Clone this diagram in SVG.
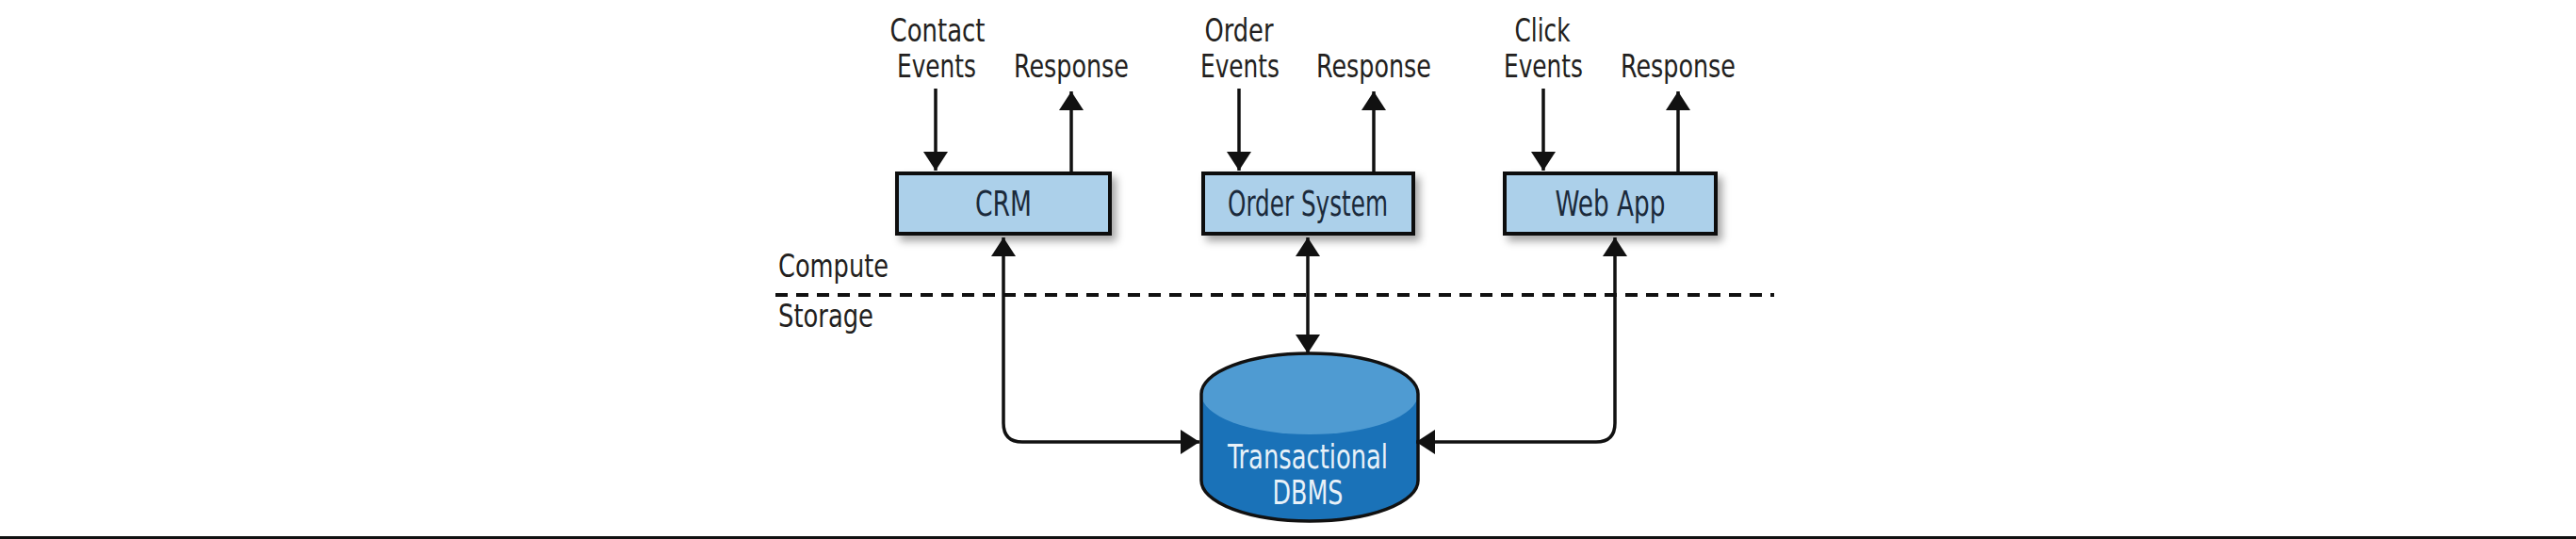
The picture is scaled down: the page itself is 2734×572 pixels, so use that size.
<svg xmlns="http://www.w3.org/2000/svg" width="2734" height="572" viewBox="0 0 2734 572">
<defs>
<style>
text{font-family:"Liberation Sans Narrow","DejaVu Sans Condensed","Liberation Sans",sans-serif;}
.lbl{font-size:34px;fill:#231f20;text-anchor:middle;}
.side{font-size:34px;fill:#231f20;text-anchor:start;}
.box{fill:#acd0ea;stroke:#111;stroke-width:4;}
.btxt{font-size:37px;fill:#1b2a3b;text-anchor:middle;}
.dbtxt{font-size:35px;fill:#e8f1f8;text-anchor:middle;}
.conn{fill:none;stroke:#111;stroke-width:3.5;}
</style>
<marker id="ah" viewBox="0 0 20 26" refX="20" refY="13" markerWidth="20" markerHeight="26" markerUnits="userSpaceOnUse" orient="auto-start-reverse">
<path d="M0,0 L20,13 L0,26 z" fill="#111"/>
</marker>
<filter id="sh" x="-10%" y="-20%" width="130%" height="160%">
<feDropShadow dx="5" dy="6" stdDeviation="4" flood-color="#000" flood-opacity="0.35"/>
</filter>
</defs>
<rect x="0" y="0" width="2734" height="572" fill="#fff"/>
<rect x="0" y="569" width="2734" height="3" fill="#111"/>

<g id="labels">
<text class="lbl" x="995" y="44" textLength="101" lengthAdjust="spacingAndGlyphs">Contact</text>
<text class="lbl" x="994" y="82" textLength="84" lengthAdjust="spacingAndGlyphs">Events</text>
<text class="lbl" x="1137" y="82" textLength="122" lengthAdjust="spacingAndGlyphs">Response</text>
<text class="lbl" x="1315" y="44" textLength="73" lengthAdjust="spacingAndGlyphs">Order</text>
<text class="lbl" x="1316" y="82" textLength="84" lengthAdjust="spacingAndGlyphs">Events</text>
<text class="lbl" x="1458" y="82" textLength="122" lengthAdjust="spacingAndGlyphs">Response</text>
<text class="lbl" x="1637" y="44" textLength="59" lengthAdjust="spacingAndGlyphs">Click</text>
<text class="lbl" x="1638" y="82" textLength="84" lengthAdjust="spacingAndGlyphs">Events</text>
<text class="lbl" x="1781" y="82" textLength="122" lengthAdjust="spacingAndGlyphs">Response</text>
<text class="side" x="826" y="294" textLength="117" lengthAdjust="spacingAndGlyphs">Compute</text>
<text class="side" x="826" y="347" textLength="101" lengthAdjust="spacingAndGlyphs">Storage</text>
</g>

<g id="divider">
<path d="M823,313 L1883,313" fill="none" stroke="#111" stroke-width="4" stroke-dasharray="13 9"/>
</g>

<g id="crm">
<rect class="box" x="952" y="184" width="226" height="64" filter="url(#sh)"/>
<text class="btxt" x="1065" y="229" textLength="60" lengthAdjust="spacingAndGlyphs">CRM</text>
</g>
<g id="order-system">
<rect class="box" x="1277" y="184" width="223" height="64" filter="url(#sh)"/>
<text class="btxt" x="1388" y="229" textLength="170" lengthAdjust="spacingAndGlyphs">Order System</text>
</g>
<g id="web-app">
<rect class="box" x="1597" y="184" width="224" height="64" filter="url(#sh)"/>
<text class="btxt" x="1709" y="229" textLength="117" lengthAdjust="spacingAndGlyphs">Web App</text>
</g>

<g id="dbms">
<path d="M1275,418 L1275,510 A115,43 0 0 0 1505,510 L1505,418 z" fill="#1a72b8"/>
<ellipse cx="1390" cy="418" rx="115" ry="43" fill="#4f9bd2"/>
<path d="M1275,418 A115,43 0 0 1 1505,418 L1505,510 A115,43 0 0 1 1275,510 z" fill="none" stroke="#111" stroke-width="3.5"/>
<text class="dbtxt" x="1388" y="497" textLength="170" lengthAdjust="spacingAndGlyphs">Transactional</text>
<text class="dbtxt" x="1388" y="535" textLength="75" lengthAdjust="spacingAndGlyphs">DBMS</text>
</g>

<g id="connectors">
<path class="conn" d="M993,94 L993,181" marker-end="url(#ah)"/>
<path class="conn" d="M1137,182 L1137,97" marker-end="url(#ah)"/>
<path class="conn" d="M1315,94 L1315,181" marker-end="url(#ah)"/>
<path class="conn" d="M1458,182 L1458,97" marker-end="url(#ah)"/>
<path class="conn" d="M1638,94 L1638,181" marker-end="url(#ah)"/>
<path class="conn" d="M1781,182 L1781,97" marker-end="url(#ah)"/>
<path class="conn" d="M1273,469 L1085,469 Q1065,469 1065,449 L1065,252" marker-start="url(#ah)" marker-end="url(#ah)"/>
<path class="conn" d="M1388,252 L1388,375" marker-start="url(#ah)" marker-end="url(#ah)"/>
<path class="conn" d="M1503,469 L1694,469 Q1714,469 1714,449 L1714,252" marker-start="url(#ah)" marker-end="url(#ah)"/>
</g>
</svg>
